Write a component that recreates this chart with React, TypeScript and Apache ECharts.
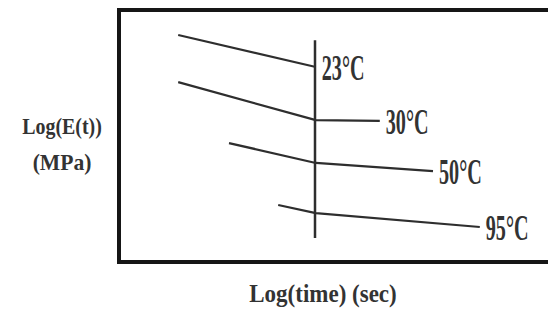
import React, { useEffect, useRef } from "react";
import * as echarts from "echarts";

// Curves: [log(time), log(E(t))] (arbitrary units)
const curve23 = [[1.48, 9.01], [4.92, 7.74]];
const curve30 = [[1.48, 7.14], [4.92, 5.63], [6.52, 5.6]];
const curve50 = [[2.75, 4.72], [4.92, 3.93], [7.85, 3.61]];
const curve95 = [[3.98, 2.26], [4.92, 1.94], [9.02, 1.39]];
const referenceTime = [[4.9, 8.8], [4.9, 0.95]];
const curveLabels = ["23°C", "30°C", "50°C", "95°C"];
const yTitle = ["Log(E(t))", "(MPa)"];
const xTitle = "Log(time) (sec)";

export default function App() {
  const ref = useRef<HTMLDivElement>(null);
  useEffect(() => {
    const chart = echarts.init(ref.current!, null, { renderer: "svg" });
    const curves = [curve23, curve30, curve50, curve95];
    const lineColor = "#2e2e2e";
    const labelData = curves.map((c, i) => [c[c.length - 1][0], c[c.length - 1][1], curveLabels[i]]);
    chart.setOption({
      animation: false,
      backgroundColor: "#ffffff",
      grid: { left: 119, top: 10, width: 440, height: 252, outerBoundsMode: "none", containLabel: false, show: true, borderColor: "#161616", borderWidth: 4, backgroundColor: "transparent" },
      xAxis: { type: "value", min: 0, max: 11, axisLine: { show: false }, axisTick: { show: false }, axisLabel: { show: false }, splitLine: { show: false } },
      yAxis: { type: "value", min: 0, max: 10, axisLine: { show: false }, axisTick: { show: false }, axisLabel: { show: false }, splitLine: { show: false } },
      graphic: [
        { type: "text", x: 62, y: 126, scaleX: 0.83, style: { text: yTitle[0], font: "bold 24px 'Liberation Serif'", fill: "#333", align: "center", verticalAlign: "middle" } },
        { type: "text", x: 62, y: 162, scaleX: 0.9, style: { text: yTitle[1], font: "bold 24px 'Liberation Serif'", fill: "#333", align: "center", verticalAlign: "middle" } },
        { type: "text", x: 323, y: 294, scaleX: 0.92, style: { text: xTitle, font: "bold 25px 'Liberation Serif'", fill: "#333", align: "center", verticalAlign: "middle" } },
      ],
      series: [
        ...curves.map((c) => ({
          type: "line",
          data: c,
          symbol: "none",
          lineStyle: { color: lineColor, width: 2.2 },
        })),
        { type: "line", data: referenceTime, symbol: "none", lineStyle: { color: lineColor, width: 2.5 } },
        {
          type: "custom",
          data: labelData,
          renderItem: (params: any, api: any) => {
            const pt = api.coord([api.value(0), api.value(1)]);
            return {
              type: "text",
              x: pt[0] + 6,
              y: pt[1] + 1,
              scaleX: 0.56,
              style: {
                text: labelData[params.dataIndex][2],
                font: "bold 36px 'Liberation Serif'",
                fill: "#333",
                verticalAlign: "middle",
                align: "left",
              },
            };
          },
        },
      ],
    });
    return () => chart.dispose();
  }, []);
  return <div ref={ref} style={{ position: "fixed", left: 0, top: 0, width: 548, height: 312 }} />;
}
